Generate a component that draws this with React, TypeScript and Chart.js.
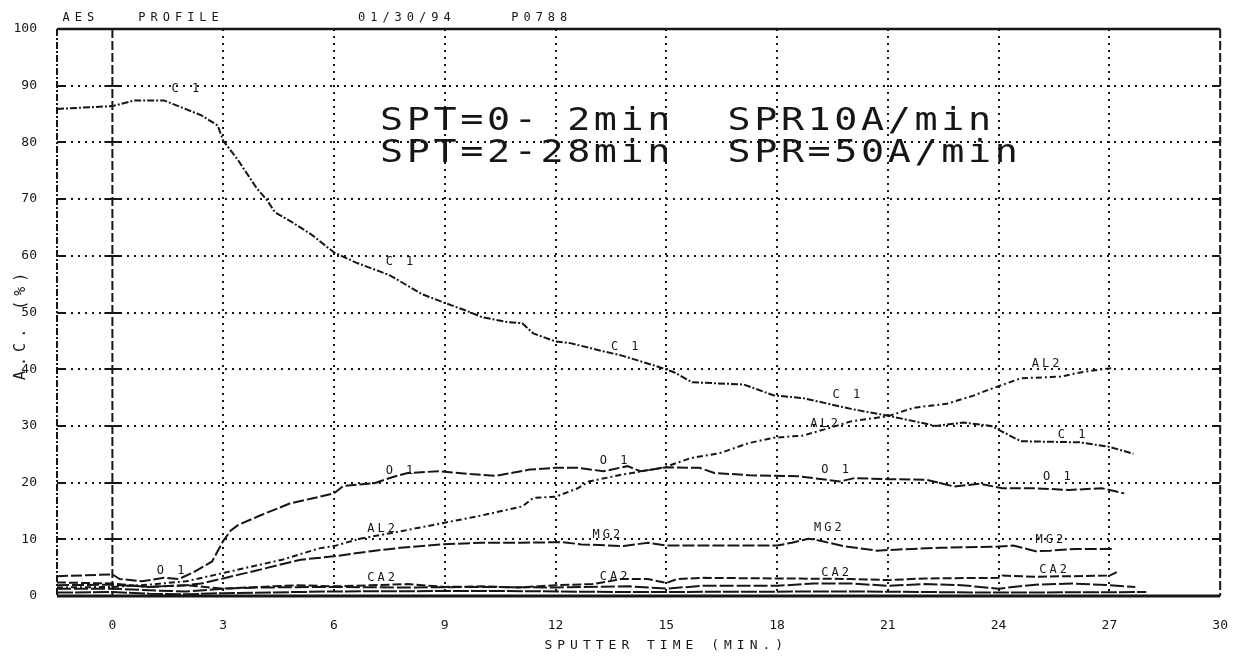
import { useEffect, useRef } from "react";
import { Chart, registerables } from "chart.js";

Chart.register(...registerables);

const INK = "#161616";
const MONO = "'DejaVu Sans Mono', 'Liberation Mono', monospace";

// Axis ranges and tick values
const timeMin = -1.5;
const timeMax = 30;
const xTicks = [0, 3, 6, 9, 12, 15, 18, 21, 24, 27, 30];
const yTicks = [0, 10, 20, 30, 40, 50, 60, 70, 80, 90, 100];

// Carbon (C 1)
const c1Time = [-1.5, 0, 0.6, 1.4, 2.4, 2.85, 3.0, 3.4, 3.9, 4.2, 4.4, 4.85, 5.4, 6.0, 6.6, 7.5, 8.4, 9.0, 9.55, 10.0, 10.7, 11.1, 11.4, 12.0, 12.4, 13.2, 13.8, 14.7, 15.2, 15.7, 17.1, 17.9, 18.7, 20.0, 21.0, 22.3, 23.05, 23.8, 24.6, 26.2, 27.0, 27.65];
const c1Pct = [85.9, 86.4, 87.4, 87.4, 84.8, 83.0, 80.3, 76.9, 72.0, 69.7, 67.7, 66.0, 63.7, 60.6, 58.8, 56.6, 53.2, 51.7, 50.4, 49.2, 48.3, 48.1, 46.3, 44.9, 44.6, 43.3, 42.4, 40.6, 39.5, 37.7, 37.3, 35.4, 34.9, 33.0, 31.8, 30.0, 30.6, 30.0, 27.3, 27.1, 26.3, 25.1];

// Oxygen (O 1)
const o1Time = [-1.5, 0, 0.2, 0.8, 1.4, 1.8, 2.2, 2.7, 3.0, 3.2, 3.4, 4.0, 4.8, 5.4, 6.0, 6.25, 7.1, 7.6, 8.0, 8.85, 9.7, 10.4, 11.3, 12.0, 12.6, 13.3, 13.95, 14.3, 15.0, 15.9, 16.3, 17.25, 18.6, 19.7, 20.1, 21.0, 22.05, 22.8, 23.5, 24.1, 25.0, 25.9, 26.8, 27.4];
const o1Pct = [3.5, 3.8, 3.0, 2.6, 3.2, 3.0, 4.2, 6.1, 9.7, 11.5, 12.5, 14.2, 16.3, 17.2, 18.1, 19.4, 19.9, 21.0, 21.7, 22.0, 21.5, 21.2, 22.3, 22.6, 22.6, 22.0, 22.9, 22.0, 22.7, 22.6, 21.7, 21.3, 21.1, 20.2, 20.8, 20.6, 20.5, 19.3, 19.8, 19.0, 19.0, 18.7, 19.0, 18.1];

// Aluminium (AL2)
const al2Time = [-1.5, 0, 1.0, 2.0, 2.9, 3.5, 4.6, 5.6, 6.0, 6.7, 7.8, 8.9, 10.0, 11.1, 11.4, 12.0, 12.6, 12.9, 13.8, 14.95, 15.65, 16.45, 17.25, 17.9, 18.7, 19.4, 20.0, 21.0, 21.7, 22.6, 23.3, 23.7, 24.6, 25.7, 26.1, 26.8, 27.1];
const al2Pct = [1.5, 1.6, 2.0, 2.6, 3.9, 4.8, 6.4, 8.4, 8.8, 10.1, 11.4, 12.8, 14.2, 15.8, 17.3, 17.5, 19.0, 20.2, 21.4, 22.7, 24.3, 25.2, 27.0, 27.9, 28.3, 29.6, 30.8, 31.7, 33.2, 33.9, 35.3, 36.3, 38.4, 38.7, 39.3, 40.0, 40.2];

// Magnesium (MG2)
const mg2Time = [-1.5, 0, 1.0, 2.0, 2.4, 3.0, 3.9, 5.1, 6.0, 7.0, 7.8, 8.9, 10.0, 11.1, 12.2, 12.7, 13.85, 14.5, 15.0, 16.5, 18.0, 18.4, 18.86, 19.2, 19.8, 20.7, 21.3, 22.4, 23.9, 24.4, 25.0, 25.4, 26.1, 27.1];
const mg2Pct = [1.9, 2.0, 1.6, 1.9, 2.2, 3.1, 4.5, 6.4, 7.0, 7.9, 8.5, 9.1, 9.4, 9.4, 9.5, 9.1, 8.8, 9.4, 8.9, 8.9, 8.9, 9.4, 10.1, 9.7, 8.8, 8.0, 8.2, 8.5, 8.7, 8.9, 7.9, 8.0, 8.3, 8.3];

// Calcium (CA2)
const ca2Time = [-1.5, 0, 1.0, 2.0, 3.0, 4.0, 5.0, 6.0, 7.0, 8.0, 9.0, 10.0, 11.0, 12.0, 13.0, 13.8, 14.5, 15.0, 15.3, 16.0, 18.0, 20.0, 21.0, 22.0, 24.0, 24.1, 25.0, 26.0, 27.0, 27.2];
const ca2Pct = [2.4, 2.2, 1.6, 1.9, 1.3, 1.6, 1.9, 1.7, 1.9, 2.1, 1.6, 1.7, 1.5, 1.9, 2.1, 3.0, 3.0, 2.3, 3.0, 3.2, 3.1, 3.0, 2.8, 3.1, 3.2, 3.6, 3.4, 3.5, 3.6, 4.2];

// Silicon (SI2)
const si2Time = [-1.5, 0, 1.0, 2.0, 3.0, 4.0, 6.0, 8.0, 10.0, 12.0, 14.0, 15.0, 16.0, 18.0, 19.0, 20.0, 21.0, 22.0, 23.0, 24.0, 25.0, 26.0, 27.0, 27.7];
const si2Pct = [1.3, 1.3, 1.0, 0.8, 1.3, 1.5, 1.6, 1.5, 1.6, 1.5, 1.7, 1.3, 1.8, 1.8, 2.2, 2.2, 1.8, 2.1, 1.9, 1.3, 2.0, 2.2, 1.9, 1.6];

// Sodium (NA1)
const na1Time = [-1.5, 0, 1.0, 2.0, 3.0, 6.0, 10.0, 14.0, 20.0, 24.0, 28.0];
const na1Pct = [0.6, 0.7, 0.4, 0.3, 0.5, 0.8, 0.9, 0.7, 0.8, 0.6, 0.7];

// Curve labels
const labelText = ["C 1", "C 1", "C 1", "C 1", "C 1", "O 1", "O 1", "O 1", "O 1", "O 1", "AL2", "AL2", "AL2", "MG2", "MG2", "MG2", "CA2", "CA2", "CA2", "CA2"];
const labelTime = [1.6, 7.4, 13.5, 19.5, 25.6, 1.2, 7.4, 13.2, 19.2, 25.2, 6.9, 18.9, 24.9, 13.0, 19.0, 25.0, 6.9, 13.2, 19.2, 25.1];
const labelPct = [89.5, 59.0, 44.0, 35.5, 28.4, 4.4, 22.0, 23.8, 22.3, 21.0, 11.8, 30.4, 40.9, 10.8, 12.0, 9.9, 3.2, 3.4, 4.1, 4.6];

// Header and annotation text
const headerWords = ["AES", "PROFILE", "01/30/94", "P0788"];
const headerTime = [-1.35, 0.7, 6.65, 10.8];
const noteLines = ["SPT=0- 2min  SPR10A/min", "SPT=2-28min  SPR=50A/min"];
const noteTime = 7.25;
const notePct = [82.2, 76.6];

const pts = (t: number[], v: number[]) => t.map((x, i) => ({ x, y: v[i] }));

const series = [
  { name: "C 1", t: c1Time, v: c1Pct, dash: [7, 2, 2, 2] },
  { name: "O 1", t: o1Time, v: o1Pct, dash: [11, 3] },
  { name: "AL2", t: al2Time, v: al2Pct, dash: [6, 3, 2, 3] },
  { name: "MG2", t: mg2Time, v: mg2Pct, dash: [12, 3] },
  { name: "CA2", t: ca2Time, v: ca2Pct, dash: [9, 3] },
  { name: "SI2", t: si2Time, v: si2Pct, dash: [14, 3] },
  { name: "NA1", t: na1Time, v: na1Pct, dash: [16, 2] },
];

const profilePlugin = {
  id: "profileFrame",
  beforeDatasetsDraw(chart: any) {
    const { ctx } = chart;
    const x = chart.scales.x;
    const y = chart.scales.y;
    const L = x.getPixelForValue(timeMin);
    const R = x.getPixelForValue(timeMax);
    const Z = x.getPixelForValue(0);
    const T = y.getPixelForValue(100);
    const B = y.getPixelForValue(0);
    ctx.save();
    ctx.strokeStyle = INK;
    ctx.lineCap = "butt";

    // dotted grid
    ctx.lineWidth = 2;
    ctx.setLineDash([2, 5]);
    ctx.beginPath();
    yTicks.filter((v) => v > 0 && v < 100).forEach((v) => {
      const py = Math.round(y.getPixelForValue(v));
      ctx.moveTo(L, py);
      ctx.lineTo(R, py);
    });
    xTicks.filter((v) => v > 0 && v < timeMax).forEach((v) => {
      const px = Math.round(x.getPixelForValue(v));
      ctx.moveTo(px, T);
      ctx.lineTo(px, B);
    });
    ctx.stroke();

    // left frame, zero line and right frame
    ctx.lineWidth = 2;
    ctx.setLineDash([7, 2, 2, 2]);
    ctx.beginPath();
    ctx.moveTo(L, T);
    ctx.lineTo(L, B);
    ctx.stroke();
    ctx.setLineDash([9, 3]);
    ctx.beginPath();
    ctx.moveTo(Z, T);
    ctx.lineTo(Z, B);
    ctx.moveTo(R, T);
    ctx.lineTo(R, B);
    ctx.stroke();

    // top and bottom frame
    ctx.setLineDash([]);
    ctx.lineWidth = 2.5;
    ctx.beginPath();
    ctx.moveTo(L, T);
    ctx.lineTo(R, T);
    ctx.stroke();
    ctx.lineWidth = 3;
    ctx.beginPath();
    ctx.moveTo(L, B);
    ctx.lineTo(R, B);
    ctx.stroke();

    // tick marks on the frames and the zero line
    ctx.lineWidth = 2;
    ctx.beginPath();
    yTicks.filter((v) => v > 0 && v < 100).forEach((v) => {
      const py = Math.round(y.getPixelForValue(v));
      ctx.moveTo(L, py);
      ctx.lineTo(L + 8, py);
      ctx.moveTo(Z - 8, py);
      ctx.lineTo(Z + 8, py);
      ctx.moveTo(R - 8, py);
      ctx.lineTo(R, py);
    });
    ctx.stroke();
    ctx.restore();
  },
  afterDatasetsDraw(chart: any) {
    const { ctx } = chart;
    const x = chart.scales.x;
    const y = chart.scales.y;
    const L = x.getPixelForValue(timeMin);
    const T = y.getPixelForValue(100);
    const B = y.getPixelForValue(0);
    ctx.save();
    ctx.fillStyle = INK;

    // curve labels
    ctx.font = `12px ${MONO}`;
    ctx.letterSpacing = "3px";
    ctx.textAlign = "left";
    ctx.textBaseline = "middle";
    labelText.forEach((s, i) => {
      ctx.fillText(s, x.getPixelForValue(labelTime[i]), y.getPixelForValue(labelPct[i]));
    });

    // header
    ctx.font = `12px ${MONO}`;
    ctx.letterSpacing = "5px";
    ctx.textBaseline = "alphabetic";
    headerWords.forEach((s, i) => {
      ctx.fillText(s, x.getPixelForValue(headerTime[i]), T - 8);
    });

    // sputter-rate note
    ctx.font = `32px ${MONO}`;
    ctx.letterSpacing = "3px";
    noteLines.forEach((s, i) => {
      ctx.save();
      ctx.translate(x.getPixelForValue(noteTime), y.getPixelForValue(notePct[i]));
      ctx.scale(1.2, 1);
      ctx.fillText(s, 0, 0);
      ctx.restore();
    });

    // axis titles
    ctx.font = `13px ${MONO}`;
    ctx.letterSpacing = "5px";
    ctx.textAlign = "center";
    ctx.textBaseline = "middle";
    ctx.fillText("SPUTTER TIME (MIN.)", x.getPixelForValue(15), B + 50);
    ctx.save();
    ctx.font = `15px ${MONO}`;
    ctx.letterSpacing = "5px";
    ctx.translate(L - 36, y.getPixelForValue(48));
    ctx.rotate(-Math.PI / 2);
    ctx.fillText("A.C. (%)", 0, 0);
    ctx.restore();
    ctx.restore();
  },
};

export default function App() {
  const canvasRef = useRef<HTMLCanvasElement>(null);

  useEffect(() => {
    const canvas = canvasRef.current;
    if (!canvas) return;
    const chart = new Chart(canvas, {
      type: "line",
      data: {
        datasets: series.map((s) => ({
          label: s.name,
          data: pts(s.t, s.v),
          borderColor: INK,
          borderWidth: 2,
          borderDash: s.dash,
          pointRadius: 0,
          tension: 0,
          fill: false,
        })),
      },
      options: {
        animation: false,
        responsive: false,
        devicePixelRatio: 1,
        layout: { padding: { top: 29, right: 20, left: 0, bottom: 0 } },
        plugins: {
          legend: { display: false },
          tooltip: { enabled: false },
          title: { display: false },
        },
        scales: {
          x: {
            type: "linear",
            min: timeMin,
            max: timeMax,
            afterBuildTicks: (sc: any) => {
              sc.ticks = xTicks.map((v) => ({ value: v }));
            },
            afterFit: (sc: any) => {
              sc.height = 63;
            },
            grid: { display: false },
            border: { display: false },
            ticks: {
              autoSkip: false,
              maxRotation: 0,
              padding: 14,
              color: INK,
              font: { family: MONO, size: 13 },
            },
          },
          y: {
            type: "linear",
            min: 0,
            max: 100,
            afterBuildTicks: (sc: any) => {
              sc.ticks = yTicks.map((v) => ({ value: v }));
            },
            afterFit: (sc: any) => {
              sc.width = 57;
            },
            grid: { display: false },
            border: { display: false },
            ticks: {
              padding: 12,
              color: INK,
              font: { family: MONO, size: 13 },
            },
          },
        },
      },
      plugins: [profilePlugin],
    });
    return () => chart.destroy();
  }, []);

  return (
    <div style={{ position: "absolute", left: 0, top: 0, width: 1242, height: 659, background: "#fff" }}>
      <canvas ref={canvasRef} width={1242} height={659} style={{ display: "block" }} />
    </div>
  );
}
